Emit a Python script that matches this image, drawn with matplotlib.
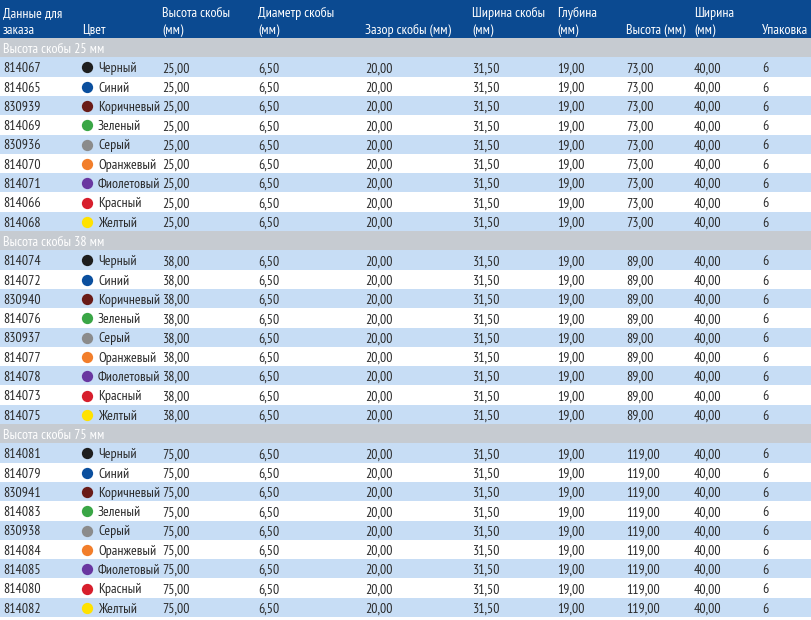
import matplotlib.pyplot as plt
from matplotlib.patches import Rectangle

plt.rcParams['font.family'] = ['PT Sans Narrow', 'Roboto Condensed', 'DejaVu Sans']

# --- data ---
headers = ["Данные для\nзаказа", "Цвет", "Высота скобы\n(мм)", "Диаметр скобы\n(мм)",
           "Зазор скобы (мм)", "Ширина скобы\n(мм)", "Глубина\n(мм)", "Высота (мм)",
           "Ширина\n(мм)", "Упаковка"]
group_titles = ["Высота скобы 25 мм", "Высота скобы 38 мм", "Высота скобы 75 мм"]
codes = [
    ["814067", "814065", "830939", "814069", "830936", "814070", "814071", "814066", "814068"],
    ["814074", "814072", "830940", "814076", "830937", "814077", "814078", "814073", "814075"],
    ["814081", "814079", "830941", "814083", "830938", "814084", "814085", "814080", "814082"],
]
color_names = ["Черный", "Синий", "Коричневый", "Зеленый", "Серый",
               "Оранжевый", "Фиолетовый", "Красный", "Желтый"]
dot_colors = ["#1e1e1e", "#0b4f9e", "#6a1c18", "#3aa646", "#8b8b8b",
              "#f27e2b", "#6937a0", "#d71f2d", "#ffe200"]
staple_height = ["25,00", "38,00", "75,00"]
diameter = ["6,50", "6,50", "6,50"]
gap = ["20,00", "20,00", "20,00"]
staple_width = ["31,50", "31,50", "31,50"]
depth = ["19,00", "19,00", "19,00"]
height = ["73,00", "89,00", "119,00"]
width = ["40,00", "40,00", "40,00"]
pack = ["6", "6", "6"]

# column x positions (pixels)
col_x = [3, 82, 162, 258, 365, 472, 557, 626, 694, 762]

W, H = 811, 620
fig = plt.figure(figsize=(W / 100, H / 100), dpi=100)
ax = fig.add_axes([0, 0, 1, 1])
ax.set_xlim(0, W)
ax.set_ylim(H, 0)
ax.axis('off')

hdr_h = 38
row_h = (617 - hdr_h) / 30
txt = "#2a2a2a"
fs = 10
dy = 1.8  # text sits a little below the row centre

ax.add_patch(Rectangle((0, 0), W, hdr_h, color="#0b4a91", lw=0))
for x, h in zip(col_x, headers):
    lines = h.split("\n")
    if len(lines) == 2:
        ax.text(x, 12 + dy, lines[0], color="white", fontsize=fs, va="center", ha="left")
        ax.text(x, 29 + dy, lines[1], color="white", fontsize=fs, va="center", ha="left")
    else:
        ax.text(x, 29 + dy, lines[0], color="white", fontsize=fs, va="center", ha="left")

y = hdr_h
for g, title in enumerate(group_titles):
    ax.add_patch(Rectangle((0, y), W, row_h, color="#c6cbd1", lw=0))
    ax.text(3, y + row_h / 2 + dy, title, color="white", fontsize=fs, va="center")
    y += row_h
    for i in range(len(codes[g])):
        bg = "#c7ddf5" if i % 2 == 0 else "white"
        ax.add_patch(Rectangle((0, y), W, row_h, color=bg, lw=0))
        cy = y + row_h / 2
        ax.scatter([87], [cy + 0.5], s=66, color=dot_colors[i], zorder=3, lw=0)
        vals = [codes[g][i], None, staple_height[g], diameter[g], gap[g],
                staple_width[g], depth[g], height[g], width[g], pack[g]]
        for x, v in zip(col_x, vals):
            if v is not None:
                ax.text(x, cy + dy, v, color=txt, fontsize=fs, va="center", ha="left")
        ax.text(98, cy + dy, color_names[i], color=txt, fontsize=fs, va="center", ha="left")
        y += row_h

fig.savefig("out.png", dpi=100)
